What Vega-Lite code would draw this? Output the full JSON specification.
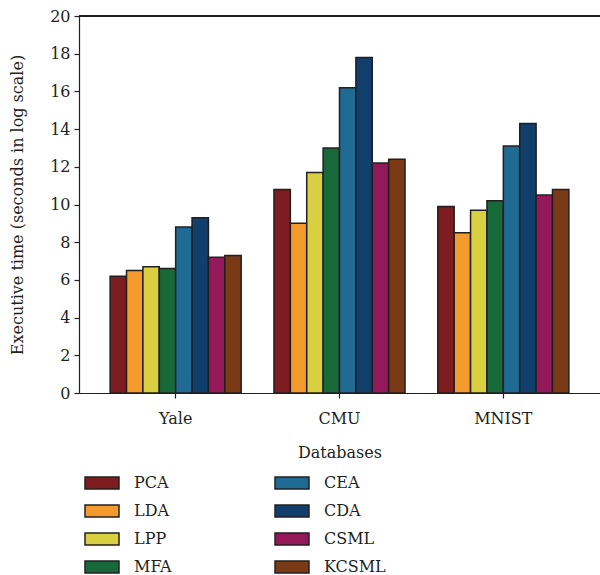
{
  "$schema": "https://vega.github.io/schema/vega-lite/v6.json",
  "width": 521,
  "height": 377,
  "autosize": {"type": "none"},
  "padding": {"left": 79, "top": 16, "right": 0, "bottom": 182},
  "background": "white",
  "config": {
    "view": {"stroke": null},
    "font": "DejaVu Serif",
    "axis": {"labelFont": "DejaVu Serif", "titleFont": "DejaVu Serif", "labelFontSize": 16, "titleFontSize": 16, "titleFontWeight": "normal", "labelColor": "#231f20", "titleColor": "#231f20", "domainColor": "#231f20", "tickColor": "#231f20", "domainWidth": 1.2, "tickWidth": 1.2, "grid": false, "labelOverlap": false},
    "legend": {"labelFont": "DejaVu Serif", "labelFontSize": 16, "labelColor": "#231f20"}
  },
  "data": {"values": [
    {"db": "Yale", "method": "PCA", "time": 6.2},
    {"db": "Yale", "method": "LDA", "time": 6.5},
    {"db": "Yale", "method": "LPP", "time": 6.7},
    {"db": "Yale", "method": "MFA", "time": 6.6},
    {"db": "Yale", "method": "CEA", "time": 8.8},
    {"db": "Yale", "method": "CDA", "time": 9.3},
    {"db": "Yale", "method": "CSML", "time": 7.2},
    {"db": "Yale", "method": "KCSML", "time": 7.3},
    {"db": "CMU", "method": "PCA", "time": 10.8},
    {"db": "CMU", "method": "LDA", "time": 9.0},
    {"db": "CMU", "method": "LPP", "time": 11.7},
    {"db": "CMU", "method": "MFA", "time": 13.0},
    {"db": "CMU", "method": "CEA", "time": 16.2},
    {"db": "CMU", "method": "CDA", "time": 17.8},
    {"db": "CMU", "method": "CSML", "time": 12.2},
    {"db": "CMU", "method": "KCSML", "time": 12.4},
    {"db": "MNIST", "method": "PCA", "time": 9.9},
    {"db": "MNIST", "method": "LDA", "time": 8.5},
    {"db": "MNIST", "method": "LPP", "time": 9.7},
    {"db": "MNIST", "method": "MFA", "time": 10.2},
    {"db": "MNIST", "method": "CEA", "time": 13.1},
    {"db": "MNIST", "method": "CDA", "time": 14.3},
    {"db": "MNIST", "method": "CSML", "time": 10.5},
    {"db": "MNIST", "method": "KCSML", "time": 10.8}
  ]},
  "layer": [
    {
      "mark": {"type": "bar", "stroke": "#231f20", "strokeWidth": 1.5},
      "encoding": {
        "x": {"field": "db", "type": "nominal", "sort": ["Yale", "CMU", "MNIST"],
              "scale": {"paddingInner": 0.2, "paddingOuter": 0.19},
              "axis": {"title": "Databases", "labelAngle": 0, "tickSize": 5, "labelPadding": 12, "titlePadding": 18}},
        "xOffset": {"field": "method", "type": "nominal", "sort": ["PCA", "LDA", "LPP", "MFA", "CEA", "CDA", "CSML", "KCSML"]},
        "y": {"field": "time", "type": "quantitative",
              "scale": {"domain": [0, 20], "nice": false},
              "axis": {"title": "Executive time (seconds in log scale)", "values": [0, 2, 4, 6, 8, 10, 12, 14, 16, 18, 20], "labelOverlap": false, "tickSize": 5, "labelPadding": 4, "titlePadding": 24}},
        "color": {"field": "method", "type": "nominal",
                  "scale": {"domain": ["PCA", "LDA", "LPP", "MFA", "CEA", "CDA", "CSML", "KCSML"],
                            "range": ["#7d1d1f", "#f39a2c", "#d8d040", "#17693a", "#1f6b94", "#103f6c", "#93195a", "#7a3a16"]},
                  "legend": {"title": null, "orient": "none", "legendX": 5, "legendY": 458, "columns": 2,
                             "symbolType": "M-1,-0.35H1V0.35H-1Z", "symbolSize": 1156, "symbolStrokeColor": "#231f20", "symbolStrokeWidth": 1.5,
                             "symbolOpacity": 1, "labelOffset": 14, "columnPadding": 102, "rowPadding": 10, "clipHeight": 18}}
      }
    },
    {
      "mark": {"type": "rule", "color": "#231f20", "strokeWidth": 1.2},
      "encoding": {"y": {"datum": 20, "type": "quantitative",
              "axis": {"title": "Executive time (seconds in log scale)", "values": [0, 2, 4, 6, 8, 10, 12, 14, 16, 18, 20], "labelOverlap": false, "tickSize": 5, "labelPadding": 4, "titlePadding": 24}}}
    }
  ]
}
